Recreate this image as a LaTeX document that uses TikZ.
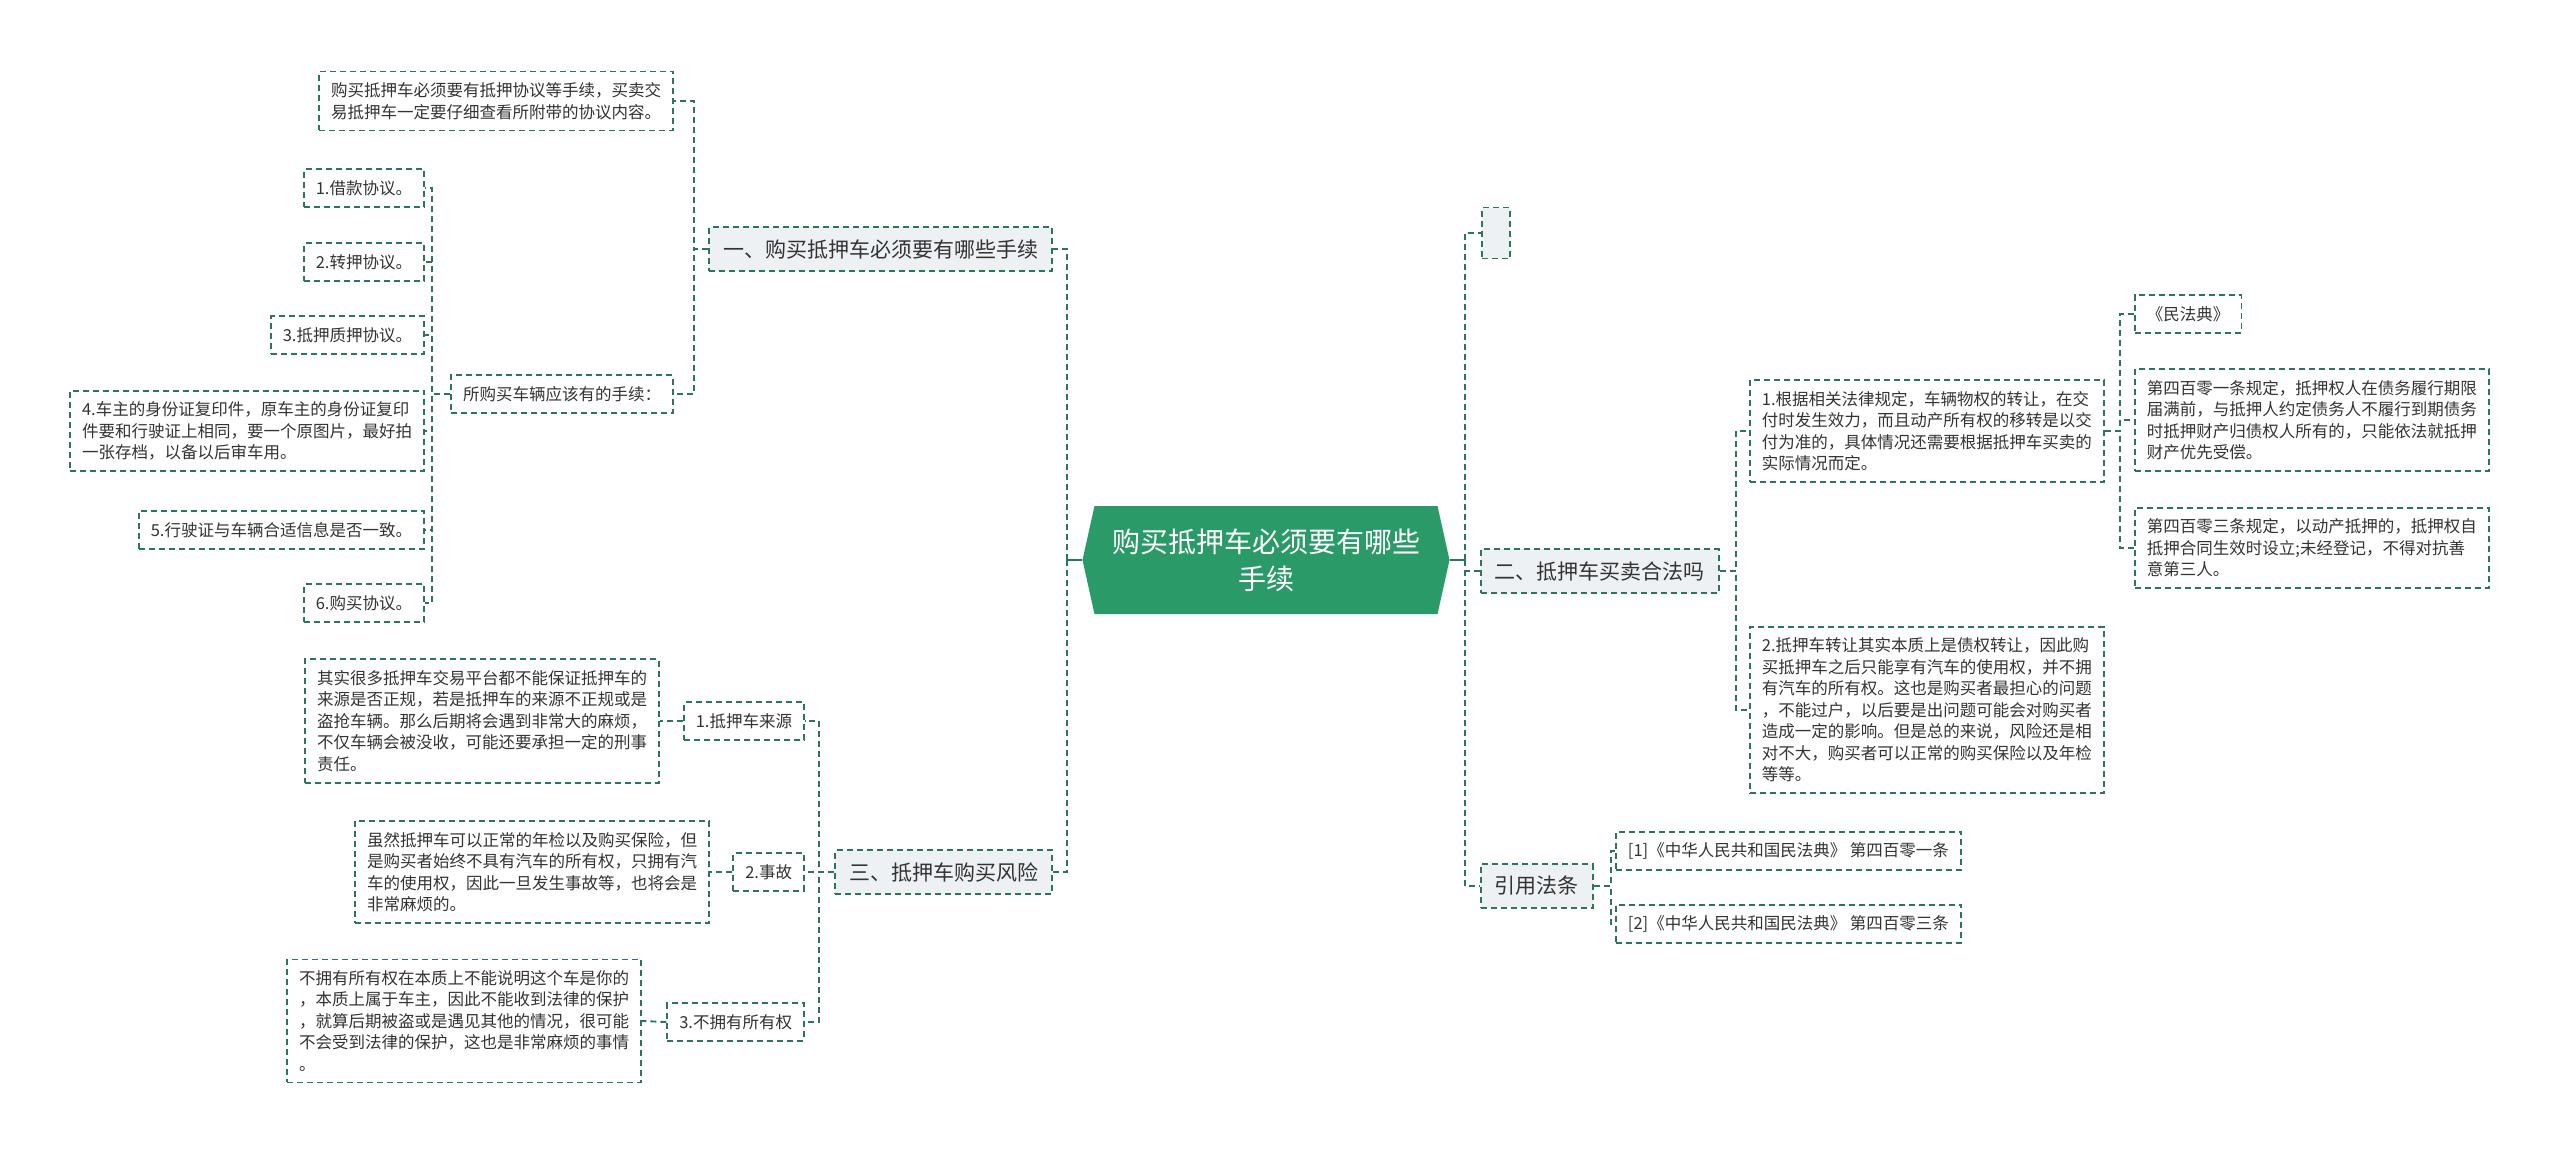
\documentclass[tikz,border=0pt]{standalone}
\usepackage{fontspec}
\usepackage{xcolor}
\usepackage{tikz}
\usetikzlibrary{shapes.symbols}
\newfontfamily\cjk{Noto Sans CJK SC}
\definecolor{RootGreen}{HTML}{2A9A68}
\definecolor{LineGreen}{HTML}{2A7656}
\definecolor{BranchGray}{HTML}{EEF1F4}
\definecolor{InkGray}{HTML}{333333}

\begin{document}
\begin{tikzpicture}[
    x=1pt, y=-1pt,
    root/.style={
      shape=signal, signal to=west and east, signal pointer angle=155,
      fill=RootGreen, text=white, align=center,
      minimum width=367pt, minimum height=108pt, inner sep=0pt,
      font=\cjk\fontsize{28}{37}\selectfont
    },
    branch/.style={
      rectangle, draw=LineGreen, line width=1.9pt, dash pattern=on 6pt off 4pt,
      fill=BranchGray, text=InkGray, inner xsep=14pt, inner ysep=12pt,
      font=\cjk\fontsize{21}{26}\selectfont
    },
    leaf/.style={
      rectangle, draw=LineGreen, line width=1.9pt, dash pattern=on 6pt off 4pt,
      fill=white, text=InkGray, align=left, inner xsep=12pt, inner ysep=11pt,
      font=\cjk\fontsize{16.5}{21.5}\selectfont
    },
    link/.style={draw=LineGreen, line width=1.9pt, dash pattern=on 6pt off 4pt},
    trunk/.style={draw=LineGreen, line width=1.9pt}
  ]
    \useasboundingbox (0,0) rectangle (2560,1156);

    %% Root
    \node[root] (root) at (1266,560) {购买抵押车必须要有哪些\\手续};
    \coordinate (lspine) at ([xshift=-15pt]root.west);
    \coordinate (rspine) at ([xshift=15pt]root.east);

    %% Left: procedures
    \node[branch, anchor=east] (proc) at (1053,249) {一、购买抵押车必须要有哪些手续};
    \node[leaf, anchor=east] (intro) at (674,101) {购买抵押车必须要有抵押协议等手续，买卖交\\易抵押车一定要仔细查看所附带的协议内容。};
    \node[leaf, anchor=east] (papers) at (674,394) {所购买车辆应该有的手续：};
    \node[leaf, anchor=east] (loan) at (425,188) {1.借款协议。};
    \node[leaf, anchor=east] (transfer) at (425,262) {2.转押协议。};
    \node[leaf, anchor=east] (pledge) at (425,335) {3.抵押质押协议。};
    \node[leaf, anchor=east] (idcard) at (425,431) {4.车主的身份证复印件，原车主的身份证复印\\件要和行驶证上相同，要一个原图片，最好拍\\一张存档，以备以后审车用。};
    \node[leaf, anchor=east] (license) at (425,530) {5.行驶证与车辆合适信息是否一致。};
    \node[leaf, anchor=east] (purchase) at (425,603) {6.购买协议。};

    %% Left: risks
    \node[branch, anchor=east] (risk) at (1053,872) {三、抵押车购买风险};
    \node[leaf, anchor=east] (source) at (805,721) {1.抵押车来源};
    \node[leaf, anchor=east] (sourcetxt) at (660,721) {其实很多抵押车交易平台都不能保证抵押车的\\来源是否正规，若是抵押车的来源不正规或是\\盗抢车辆。那么后期将会遇到非常大的麻烦，\\不仅车辆会被没收，可能还要承担一定的刑事\\责任。};
    \node[leaf, anchor=east] (accident) at (805,872) {2.事故};
    \node[leaf, anchor=east] (accidenttxt) at (710,872) {虽然抵押车可以正常的年检以及购买保险，但\\是购买者始终不具有汽车的所有权，只拥有汽\\车的使用权，因此一旦发生事故等，也将会是\\非常麻烦的。};
    \node[leaf, anchor=east] (owner) at (805,1022) {3.不拥有所有权};
    \node[leaf, anchor=east] (ownertxt) at (642,1021) {不拥有所有权在本质上不能说明这个车是你的\\，本质上属于车主，因此不能收到法律的保护\\，就算后期被盗或是遇见其他的情况，很可能\\不会受到法律的保护，这也是非常麻烦的事情\\。};

    %% Right: blank topic
    \node[branch, anchor=west, minimum width=28pt, minimum height=51pt, inner sep=0pt] (blank) at (1481,233) {};

    %% Right: legality
    \node[branch, anchor=west] (legal) at (1480,571) {二、抵押车买卖合法吗};
    \node[leaf, anchor=west] (rule) at (1749,431) {1.根据相关法律规定，车辆物权的转让，在交\\付时发生效力，而且动产所有权的移转是以交\\付为准的，具体情况还需要根据抵押车买卖的\\实际情况而定。};
    \node[leaf, anchor=west] (debt) at (1749,710) {2.抵押车转让其实本质上是债权转让，因此购\\买抵押车之后只能享有汽车的使用权，并不拥\\有汽车的所有权。这也是购买者最担心的问题\\，不能过户，以后要是出问题可能会对购买者\\造成一定的影响。但是总的来说，风险还是相\\对不大，购买者可以正常的购买保险以及年检\\等等。};
    \node[leaf, anchor=west] (code) at (2134,314) {《民法典》};
    \node[leaf, anchor=west] (art401) at (2134,420) {第四百零一条规定，抵押权人在债务履行期限\\届满前，与抵押人约定债务人不履行到期债务\\时抵押财产归债权人所有的，只能依法就抵押\\财产优先受偿。};
    \node[leaf, anchor=west] (art403) at (2134,548) {第四百零三条规定，以动产抵押的，抵押权自\\抵押合同生效时设立;未经登记，不得对抗善\\意第三人。};

    %% Right: citations
    \node[branch, anchor=west] (cite) at (1480,886) {引用法条};
    \node[leaf, anchor=west] (cite1) at (1615,851) {[1]《中华人民共和国民法典》 第四百零一条};
    \node[leaf, anchor=west] (cite2) at (1615,924) {[2]《中华人民共和国民法典》 第四百零三条};

    %% Draw connectors
    \draw[trunk] (root.west) -- (lspine);
    \draw[trunk] (root.east) -- (rspine);
    \draw[link] (lspine) |- (proc.east);
    \draw[link] (lspine) |- (risk.east);
    \draw[link] (rspine) |- (blank.west);
    \draw[link] (rspine) |- (legal.west);
    \draw[link] (rspine) |- (cite.west);

    \draw[link] (proc.west) -- ++(-14,0) |- (intro.east);
    \draw[link] (proc.west) -- ++(-14,0) |- (papers.east);
    \draw[link] (papers.west) -- ++(-18,0) |- (loan.east);
    \draw[link] (papers.west) -- ++(-18,0) |- (transfer.east);
    \draw[link] (papers.west) -- ++(-18,0) |- (pledge.east);
    \draw[link] (papers.west) -- ++(-18,0) |- (idcard.east);
    \draw[link] (papers.west) -- ++(-18,0) |- (license.east);
    \draw[link] (papers.west) -- ++(-18,0) |- (purchase.east);

    \draw[link] (risk.west) -- ++(-15,0) |- (source.east);
    \draw[link] (risk.west) -- ++(-15,0) |- (accident.east);
    \draw[link] (risk.west) -- ++(-15,0) |- (owner.east);
    \draw[link] (source.west) -- (sourcetxt.east);
    \draw[link] (accident.west) -- (accidenttxt.east);
    \draw[link] (owner.west) -- (ownertxt.east);

    \draw[link] (legal.east) -- ++(16,0) |- (rule.west);
    \draw[link] (legal.east) -- ++(16,0) |- (debt.west);
    \draw[link] (rule.east) -- ++(15,0) |- (code.west);
    \draw[link] (rule.east) -- ++(15,0) |- (art401.west);
    \draw[link] (rule.east) -- ++(15,0) |- (art403.west);

    \draw[link] (cite.east) -- ++(17,0) |- (cite1.west);
    \draw[link] (cite.east) -- ++(17,0) |- (cite2.west);
  \end{tikzpicture}
\end{document}
